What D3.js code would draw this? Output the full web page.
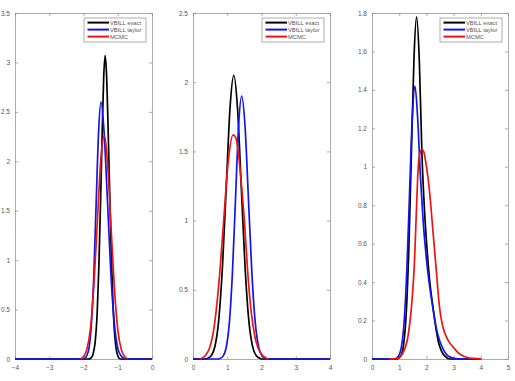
<!DOCTYPE html>
<html>
<head>
<meta charset="utf-8">
<script src="https://cdn.jsdelivr.net/npm/d3@7"></script>
<style>
  body { margin: 0; background: #fff; }
  svg { display: block; }
</style>
</head>
<body>
<svg id="chart" width="515" height="381"></svg>
<script>
// three posterior density panels

const legendLabels = ["VBILL exact", "VBILL taylor", "MCMC"];
const seriesColors = ["#000000", "#1414ec", "#ee1414"];

// panel 1
const p1XTicks = [-4, -3, -2, -1, 0];
const p1YTicks = [0, 0.5, 1, 1.5, 2, 2.5, 3, 3.5];
const p1Exact = [[-4, 0], [-1.85, 0], [-1.78, 0.01], [-1.72, 0.05], [-1.66, 0.17], [-1.6, 0.47], [-1.55, 0.95],
  [-1.5, 1.62], [-1.45, 2.35], [-1.41, 2.85], [-1.37, 3.07], [-1.33, 2.9], [-1.29, 2.45], [-1.24, 1.75],
  [-1.19, 1.08], [-1.14, 0.57], [-1.09, 0.25], [-1.04, 0.09], [-0.98, 0.02], [-0.92, 0], [0, 0]];
const p1Taylor = [[-4, 0], [-2.04, 0], [-1.98, 0.005], [-1.91, 0.03], [-1.84, 0.11], [-1.77, 0.35], [-1.7, 0.84],
  [-1.63, 1.58], [-1.56, 2.29], [-1.49, 2.6], [-1.4, 2.3], [-1.3, 1.6], [-1.2, 0.86], [-1.1, 0.36],
  [-1.0, 0.11], [-0.9, 0.03], [-0.81, 0.005], [-0.75, 0], [0, 0]];
const p1Mcmc = [[-2.08, 0], [-2.0, 0.025], [-1.9, 0.1], [-1.8, 0.3], [-1.7, 0.73], [-1.6, 1.36], [-1.5, 1.99],
  [-1.42, 2.24], [-1.38, 2.25], [-1.3, 1.99], [-1.2, 1.36], [-1.1, 0.73], [-1.0, 0.3], [-0.9, 0.1],
  [-0.8, 0.025], [-0.72, 0]];

// panel 2
const p2XTicks = [0, 1, 2, 3, 4];
const p2YTicks = [0, 0.5, 1, 1.5, 2, 2.5];
const p2Exact = [[0, 0], [0.34, 0], [0.42, 0.004], [0.53, 0.023], [0.64, 0.09], [0.75, 0.277], [0.86, 0.666],
  [0.97, 1.24], [1.08, 1.81], [1.19, 2.05], [1.3, 1.81], [1.41, 1.24], [1.52, 0.666], [1.63, 0.277],
  [1.74, 0.09], [1.85, 0.023], [1.96, 0.004], [2.05, 0], [4, 0]];
const p2Taylor = [[0, 0], [0.7, 0], [0.79, 0.004], [0.88, 0.021], [0.97, 0.083], [1.06, 0.257], [1.15, 0.617],
  [1.24, 1.15], [1.33, 1.68], [1.42, 1.9], [1.52, 1.68], [1.62, 1.15], [1.72, 0.617], [1.82, 0.257],
  [1.92, 0.083], [2.02, 0.021], [2.12, 0.004], [2.22, 0], [4, 0]];
const p2Mcmc = [[0.2, 0], [0.33, 0.018], [0.47, 0.07], [0.61, 0.22], [0.75, 0.53], [0.89, 0.98], [1.03, 1.43],
  [1.17, 1.62], [1.25, 1.6], [1.32, 1.5], [1.4, 1.3], [1.5, 1.0], [1.6, 0.62], [1.7, 0.34], [1.8, 0.17],
  [1.9, 0.08], [2.0, 0.035], [2.1, 0.012], [2.2, 0]];

// panel 3
const p3XTicks = [0, 1, 2, 3, 4, 5];
const p3YTicks = [0, 0.2, 0.4, 0.6, 0.8, 1, 1.2, 1.4, 1.6, 1.8];
const p3Exact = [[0, 0], [0.9, 0], [0.97, 0.004], [1.07, 0.02], [1.165, 0.078], [1.26, 0.241], [1.355, 0.578],
  [1.45, 1.08], [1.545, 1.57], [1.64, 1.78], [1.74, 1.55], [1.84, 1.05], [1.94, 0.75], [2.04, 0.54],
  [2.14, 0.38], [2.24, 0.27], [2.34, 0.17], [2.44, 0.09], [2.56, 0.04], [2.7, 0.012], [2.85, 0], [4, 0]];
const p3Taylor = [[0, 0], [0.77, 0], [0.88, 0.003], [0.98, 0.016], [1.08, 0.062], [1.18, 0.19], [1.28, 0.46],
  [1.38, 0.86], [1.48, 1.25], [1.58, 1.42], [1.68, 1.25], [1.78, 0.95], [1.88, 0.72], [1.98, 0.55],
  [2.08, 0.42], [2.18, 0.32], [2.28, 0.23], [2.38, 0.15], [2.5, 0.09], [2.62, 0.05], [2.76, 0.02],
  [2.95, 0.006], [3.2, 0], [4, 0]];
const p3Mcmc = [[0.62, 0], [0.8, 0.001], [0.96, 0.004], [1.06, 0.015], [1.18, 0.045], [1.3, 0.1], [1.4, 0.2],
  [1.48, 0.32], [1.56, 0.5], [1.64, 0.8], [1.7, 1.0], [1.76, 1.07], [1.83, 1.09], [1.9, 1.08], [1.97, 1.03],
  [2.07, 0.93], [2.15, 0.82], [2.22, 0.7], [2.28, 0.6], [2.34, 0.5], [2.4, 0.4], [2.46, 0.3], [2.53, 0.22],
  [2.62, 0.16], [2.72, 0.12], [2.85, 0.085], [3.0, 0.06], [3.15, 0.035], [3.3, 0.02], [3.5, 0.008],
  [3.75, 0.003], [4.03, 0]];

const panels = [
  { left: 15, right: 152, xDomain: [-4, 0], yDomain: [0, 3.5], xTicks: p1XTicks, yTicks: p1YTicks, series: [p1Exact, p1Taylor, p1Mcmc] },
  { left: 193, right: 330, xDomain: [0, 4], yDomain: [0, 2.5], xTicks: p2XTicks, yTicks: p2YTicks, series: [p2Exact, p2Taylor, p2Mcmc] },
  { left: 372, right: 508, xDomain: [0, 5], yDomain: [0, 1.8], xTicks: p3XTicks, yTicks: p3YTicks, series: [p3Exact, p3Taylor, p3Mcmc] }
];

const plotTop = 13, plotBottom = 359;
const axisColor = "#8a8a8a", textColor = "#555";
const svg = d3.select("#chart");

panels.forEach(p => {
  const x = d3.scaleLinear().domain(p.xDomain).range([p.left, p.right]);
  const y = d3.scaleLinear().domain(p.yDomain).range([plotBottom, plotTop]);
  const g = svg.append("g");

  // matlab style box with inward ticks on all sides
  const axes = [
    { ax: d3.axisBottom(x), t: `translate(0,${plotBottom})`, labels: true },
    { ax: d3.axisTop(x), t: `translate(0,${plotTop})`, labels: false },
    { ax: d3.axisLeft(y), t: `translate(${p.left},0)`, labels: true },
    { ax: d3.axisRight(y), t: `translate(${p.right},0)`, labels: false }
  ];
  axes.forEach((a, i) => {
    const isX = i < 2;
    a.ax.tickValues(isX ? p.xTicks : p.yTicks)
      .tickSizeInner(-3)
      .tickSizeOuter(0)
      .tickPadding(isX ? 6 : 5)
      .tickFormat(a.labels ? d3.format("") : () => "");
    const ag = g.append("g").attr("transform", a.t).call(a.ax);
    ag.select(".domain").attr("stroke", axisColor).attr("stroke-width", 0.7);
    ag.selectAll(".tick line").attr("stroke", axisColor).attr("stroke-width", 0.7);
    ag.selectAll(".tick text")
      .attr("fill", textColor)
      .style("font", "6.5px 'Liberation Sans', Arial, sans-serif");
  });

  const line = d3.line()
    .x(d => x(d[0]))
    .y(d => y(d[1]))
    .curve(d3.curveMonotoneX);

  p.series.forEach((s, i) => {
    g.append("path")
      .datum(s)
      .attr("fill", "none")
      .attr("stroke", seriesColors[i])
      .attr("stroke-width", 1.7)
      .attr("stroke-linejoin", "round")
      .attr("d", line);
  });

  // legend in the upper right corner
  const lw = 62, lh = 24;
  const lx = p.right - 6 - lw, ly = 18;
  const leg = g.append("g").attr("transform", `translate(${lx},${ly})`);
  leg.append("rect")
    .attr("width", lw).attr("height", lh)
    .attr("fill", "#fff")
    .attr("stroke", axisColor)
    .attr("stroke-width", 0.7);
  legendLabels.forEach((name, i) => {
    const yy = 4.6 + i * 7;
    leg.append("line")
      .attr("x1", 3.5).attr("x2", 25)
      .attr("y1", yy).attr("y2", yy)
      .attr("stroke", seriesColors[i])
      .attr("stroke-width", 2);
    leg.append("text")
      .attr("x", 26).attr("y", yy + 2)
      .attr("fill", textColor)
      .style("font", "5.8px 'Liberation Sans', Arial, sans-serif")
      .text(name);
  });
});
</script>
</body>
</html>
